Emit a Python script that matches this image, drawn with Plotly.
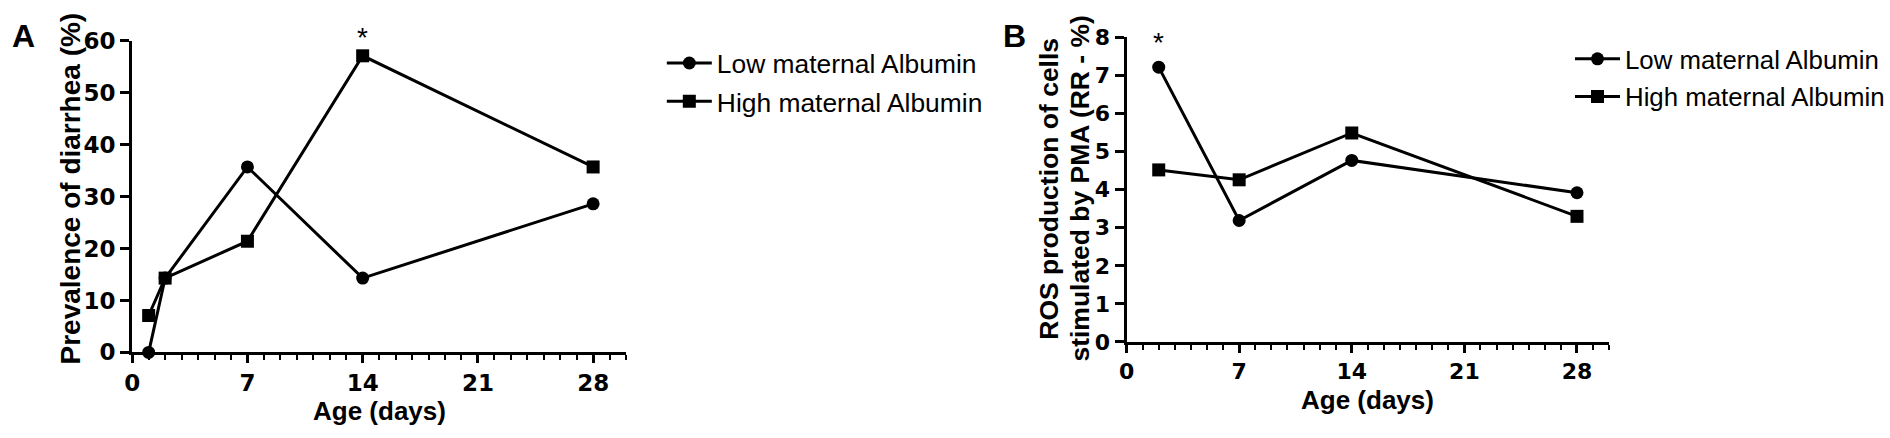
import plotly.graph_objects as go

# ---- data ----
age_a_low = [1, 2, 7, 14, 28]
prev_low = [0.0, 14.3, 35.7, 14.3, 28.6]
age_a_high = [1, 2, 7, 14, 28]
prev_high = [7.1, 14.3, 21.4, 57.1, 35.7]

age_b = [2, 7, 14, 28]
ros_low = [7.22, 3.19, 4.77, 3.92]
ros_high = [4.52, 4.26, 5.49, 3.30]

series_names = ["Low maternal Albumin", "High maternal Albumin"]
x_ticks = [0, 7, 14, 21, 28]
sig_a = (14, 60.0)   # asterisk anchor panel A (significant day)
sig_b = (2, 7.75)    # asterisk anchor panel B

W, H = 1890, 438
FONT = "Liberation Sans, Arial, Helvetica, sans-serif"
TICK_FONT = "DejaVu Sans, Liberation Sans, Arial, sans-serif"

def px_x(p):
    return p / W

def px_y(p):
    return 1 - p / H

fig = go.Figure()

line_w = 3
common_line = dict(color="black", width=line_w)

fig.add_trace(go.Scatter(x=age_a_low, y=prev_low, mode="lines+markers", name=series_names[0],
                         line=common_line, marker=dict(symbol="circle", size=13, color="black"),
                         xaxis="x", yaxis="y", legend="legend", legendgroup="a_low", cliponaxis=False))
fig.add_trace(go.Scatter(x=age_a_high, y=prev_high, mode="lines+markers", name=series_names[1],
                         line=common_line, marker=dict(symbol="square", size=13, color="black"),
                         xaxis="x", yaxis="y", legend="legend", legendgroup="a_high", cliponaxis=False))
fig.add_trace(go.Scatter(x=age_b, y=ros_low, mode="lines+markers", name=series_names[0],
                         line=common_line, marker=dict(symbol="circle", size=13, color="black"),
                         xaxis="x2", yaxis="y2", legend="legend2", legendgroup="b_low", cliponaxis=False))
fig.add_trace(go.Scatter(x=age_b, y=ros_high, mode="lines+markers", name=series_names[1],
                         line=common_line, marker=dict(symbol="square", size=13, color="black"),
                         xaxis="x2", yaxis="y2", legend="legend2", legendgroup="b_high", cliponaxis=False))

def xaxis_cfg(domain, anchor, fsize):
    return dict(domain=domain, anchor=anchor, range=[0, 30], tickmode="array", tickvals=x_ticks,
                ticks="outside", ticklen=8, tickwidth=2.5, tickcolor="black",
                minor=dict(tick0=0, dtick=1, ticks="outside", ticklen=5, tickwidth=2, tickcolor="black"),
                showline=True, linewidth=3, linecolor="black", showgrid=False, zeroline=False,
                tickfont=dict(family=TICK_FONT, size=fsize, color="black", weight=700), fixedrange=True)

def yaxis_cfg(domain, anchor, rng, dtick, fsize):
    return dict(domain=domain, anchor=anchor, range=rng, tickmode="linear", tick0=0, dtick=dtick,
                ticks="outside", ticklen=9, tickwidth=2.5, tickcolor="black",
                showline=True, linewidth=3, linecolor="black", showgrid=False, zeroline=False,
                tickfont=dict(family=TICK_FONT, size=fsize, color="black", weight=700), fixedrange=True)

ax_a_x = [px_x(125), px_x(622)]
ax_a_y = [px_y(360.8), px_y(29.5)]
ax_b_x = [px_x(1125.7), px_x(1611.4)]
ax_b_y = [px_y(349.7), px_y(26)]

annotations = [
    dict(text="<b>A</b>", x=px_x(2), y=px_y(24), xref="paper", yref="paper", xanchor="left",
         yanchor="middle", showarrow=False, font=dict(family=FONT, size=32, color="black")),
    dict(text="<b>B</b>", x=px_x(999), y=px_y(24), xref="paper", yref="paper", xanchor="left",
         yanchor="middle", showarrow=False, font=dict(family=FONT, size=32, color="black")),
    dict(text="*", x=sig_a[0], y=sig_a[1], xref="x", yref="y", showarrow=False, yshift=3,
         font=dict(family=FONT, size=28, color="black")),
    dict(text="*", x=sig_b[0], y=sig_b[1], xref="x2", yref="y2", showarrow=False, yshift=4,
         font=dict(family=FONT, size=28, color="black")),
    dict(text="<b>Prevalence of diarrhea (%)</b>", x=px_x(63), y=px_y(187), xref="paper", yref="paper",
         textangle=-90, showarrow=False, xanchor="center", yanchor="middle",
         font=dict(family=FONT, size=28, color="black")),
    dict(text="<b>ROS production of cells</b>", x=px_x(1047.5), y=px_y(187), xref="paper", yref="paper",
         textangle=-90, showarrow=False, xanchor="center", yanchor="middle",
         font=dict(family=FONT, size=26.5, color="black")),
    dict(text="<b>stimulated by PMA (RR - %)</b>", x=px_x(1078.5), y=px_y(187), xref="paper", yref="paper",
         textangle=-90, showarrow=False, xanchor="center", yanchor="middle",
         font=dict(family=FONT, size=26.5, color="black")),
    dict(text="<b>Age (days)</b>", x=px_x(373.5), y=px_y(423), xref="paper", yref="paper",
         showarrow=False, xanchor="center", yanchor="middle",
         font=dict(family=FONT, size=26, color="black")),
    dict(text="<b>Age (days)</b>", x=px_x(1368.5), y=px_y(411), xref="paper", yref="paper",
         showarrow=False, xanchor="center", yanchor="middle",
         font=dict(family=FONT, size=26, color="black")),
]

fig.update_layout(
    width=W, height=H, margin=dict(l=0, r=0, t=0, b=0),
    paper_bgcolor="white", plot_bgcolor="white",
    xaxis=xaxis_cfg(ax_a_x, "y", 23),
    yaxis=yaxis_cfg(ax_a_y, "x", [0, 60], 10, 23),
    xaxis2=xaxis_cfg(ax_b_x, "y2", 22),
    yaxis2=yaxis_cfg(ax_b_y, "x2", [0, 8], 1, 22),
    legend=dict(x=px_x(658), y=px_y(28), xanchor="left", yanchor="top", bgcolor="rgba(0,0,0,0)",
                font=dict(family=FONT, size=26.4, color="black"), itemwidth=45, tracegroupgap=1),
    legend2=dict(x=px_x(1572), y=px_y(24), xanchor="left", yanchor="top", bgcolor="rgba(0,0,0,0)",
                 font=dict(family=FONT, size=25.8, color="black"), itemwidth=45, tracegroupgap=1),
    annotations=annotations,
    showlegend=True,
)

fig.write_html("out.html", config={"displayModeBar": False},
               post_script="document.body.style.margin='0';document.body.style.overflow='hidden';")
